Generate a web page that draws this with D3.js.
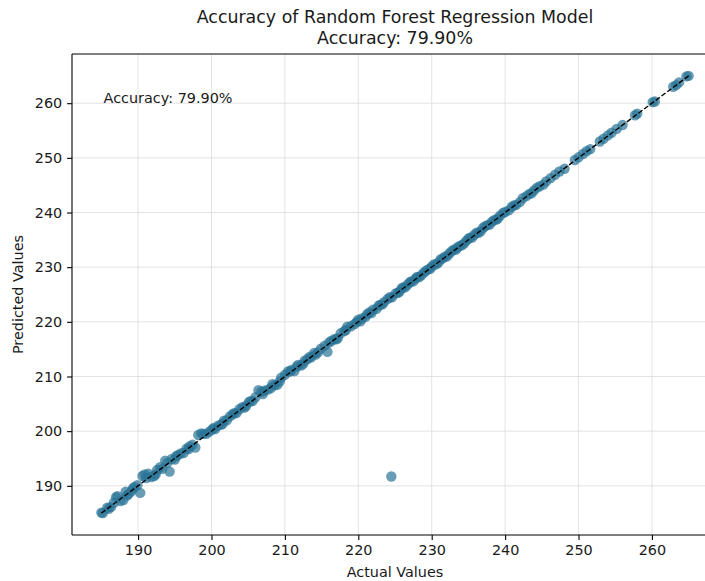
<!DOCTYPE html>
<html><head><meta charset="utf-8">
<script src="https://cdn.jsdelivr.net/npm/d3@7"></script>
<style>body{margin:0;background:#fff}svg{display:block}text{font-family:"DejaVu Sans",sans-serif}</style>
</head><body>
<script>
const actual = [185.0,185.2,185.8,186.3,186.7,187.0,187.2,187.6,188.0,188.3,188.7,189.1,189.5,189.9,190.3,190.6,190.9,191.1,191.4,191.8,192.2,192.6,193.0,193.3,193.7,194.0,194.3,194.6,195.0,195.4,195.8,196.2,196.6,197.0,197.4,197.8,198.2,198.6,198.9,199.3,199.7,200.1,200.5,200.9,201.3,201.7,202.1,202.5,202.9,203.4,203.8,204.2,204.7,205.1,205.6,206.0,206.4,206.8,207.2,207.7,208.1,208.6,209.0,209.5,210.0,210.4,210.9,211.3,211.8,212.2,212.7,213.1,213.6,214.0,214.5,214.9,215.4,215.8,216.3,216.7,217.2,217.6,218.1,218.5,219.0,219.5,220.0,220.5,221.0,221.5,222.0,222.5,223.0,223.5,224.0,224.6,225.1,225.6,226.1,226.7,227.2,227.8,228.3,228.9,229.5,230.0,230.6,231.2,231.8,232.4,233.0,233.5,234.1,234.7,235.2,235.8,236.4,237.0,237.6,238.2,238.8,239.3,240.0,240.9,241.5,242.4,243.3,243.9,244.7,245.6,246.2,246.8,247.4,248.1,249.5,250.0,250.6,251.1,251.6,252.9,253.4,254.0,254.5,255.2,256.0,257.7,258.0,260.1,260.4,262.9,263.3,263.7,264.7,265.0,224.5,
  186.0,188.5,189.3,192.4,195.2,196.9,200.3,201.5,203.1,204.5,205.3,207.0,208.3,209.3,210.7,211.6,212.5,213.4,214.2,216.0,217.0,218.3,219.8,220.3,221.2,221.8,222.8,223.3,224.3,225.4,225.9,226.4,227.0,227.5,228.0,228.6,229.2,229.8,230.3,230.9,231.5,232.1,232.7,233.3,233.8,234.4,235.0,235.5,236.1,236.7,237.3,237.9,238.5,239.0,239.7,240.5,241.2,242.0,242.9,243.6,244.3,245.2];
const predicted = [185.1,185.0,186.0,186.1,186.9,187.9,188.1,187.2,187.4,188.9,188.5,189.0,189.8,190.1,188.7,191.8,192.1,191.4,192.2,191.6,191.8,192.9,193.4,193.1,194.6,194.2,192.6,194.9,194.8,195.6,195.9,196.0,196.8,197.2,197.5,197.0,199.3,199.6,199.5,199.5,199.9,200.3,200.4,201.0,201.2,201.9,202.0,202.7,203.1,203.3,204.0,204.4,204.6,205.3,205.5,206.2,207.5,207.2,207.4,207.6,207.9,208.4,208.5,209.8,210.3,210.9,211.2,211.0,212.1,212.0,212.9,213.2,213.5,214.3,214.4,215.1,215.6,214.5,216.5,216.8,217.0,217.9,218.3,219.1,219.2,219.6,220.4,220.6,220.9,221.7,222.2,222.4,223.1,223.6,224.2,224.5,225.2,225.5,226.3,226.8,227.4,227.9,228.2,229.0,229.6,230.1,230.5,231.4,231.9,232.5,233.2,233.6,234.0,234.8,235.4,235.9,236.3,237.2,237.7,238.3,238.7,239.4,240.1,241.0,241.4,242.6,243.4,244.0,244.8,245.7,246.3,246.9,247.5,248.0,249.6,250.1,250.7,251.2,251.6,253.0,253.5,254.1,254.6,255.3,256.0,257.8,258.1,260.2,260.3,263.0,263.3,263.8,264.9,265.0,191.7,
  185.8,188.2,189.5,192.1,195.4,196.7,200.6,201.3,203.3,204.3,205.5,206.8,208.6,209.1,210.9,211.8,212.3,213.6,214.0,216.2,216.8,218.5,220.0,220.1,221.4,221.6,223.0,223.2,224.5,225.3,226.1,226.3,227.2,227.4,228.2,228.5,229.3,229.7,230.5,230.8,231.6,232.0,232.9,233.2,233.9,234.3,235.2,235.4,236.3,236.6,237.5,237.8,238.6,238.9,239.9,240.4,241.3,241.9,243.0,243.5,244.5,245.1];
const xTicks = [190,200,210,220,230,240,250,260];
const yTicks = [190,200,210,220,230,240,250,260];
const titleLines = ["Accuracy of Random Forest Regression Model","Accuracy: 79.90%"];
const annotation = "Accuracy: 79.90%";
const lineRange = [185,265];

const W=705,H=581;
const m={l:72,t:54,r:718,b:535};
const FS=14.4, TFS=17.4;
const svg=d3.select("body").append("svg").attr("width",W).attr("height",H);
const x=d3.scaleLinear().domain([181,269]).range([m.l,m.r]);
const y=d3.scaleLinear().domain([181,269]).range([m.b,m.t]);

const g=svg.append("g");
g.selectAll(".vx").data(xTicks).join("line").attr("x1",d=>x(d)).attr("x2",d=>x(d)).attr("y1",m.t).attr("y2",m.b).attr("stroke","#dcdcdc").attr("stroke-width",0.8);
g.selectAll(".hy").data(yTicks).join("line").attr("y1",d=>y(d)).attr("y2",d=>y(d)).attr("x1",m.l).attr("x2",m.r).attr("stroke","#dcdcdc").attr("stroke-width",0.8);

svg.append("g").selectAll("circle").data(actual.map((a,i)=>[a,predicted[i]])).join("circle")
 .attr("cx",d=>x(d[0])).attr("cy",d=>y(d[1])).attr("r",5.2)
 .attr("fill","#2a7396").attr("fill-opacity",0.7);

svg.append("line").attr("x1",x(lineRange[0])).attr("y1",y(lineRange[0])).attr("x2",x(lineRange[1])).attr("y2",y(lineRange[1]))
 .attr("stroke","#000").attr("stroke-width",1.4).attr("stroke-dasharray","5,2.2");

const xa=svg.append("g").attr("transform",`translate(0,${m.b})`).call(d3.axisBottom(x).tickValues(xTicks).tickSize(4.9).tickPadding(4.9));
const ya=svg.append("g").attr("transform",`translate(${m.l},0)`).call(d3.axisLeft(y).tickValues(yTicks).tickSize(4.9).tickPadding(4.9));
[xa,ya].forEach(a=>{a.select(".domain").remove();a.selectAll("text").attr("font-size",FS).attr("font-family","DejaVu Sans").attr("fill","#1a1a1a");a.selectAll("line").attr("stroke","#000").attr("stroke-width",1.1);});
svg.append("line").attr("x1",m.l).attr("x2",m.l).attr("y1",m.t).attr("y2",m.b).attr("stroke","#000").attr("stroke-width",1.1);
svg.append("line").attr("x1",m.l).attr("x2",m.r).attr("y1",m.b).attr("y2",m.b).attr("stroke","#000").attr("stroke-width",1.1);
svg.append("line").attr("x1",m.l).attr("x2",m.r).attr("y1",m.t).attr("y2",m.t).attr("stroke","#000").attr("stroke-width",1.1);

svg.append("text").attr("x",x(185.3)).attr("y",y(260)).attr("font-size",FS).attr("fill","#1a1a1a").text(annotation);

svg.append("text").attr("text-anchor","middle").attr("font-size",TFS).attr("fill","#1a1a1a")
 .selectAll("tspan").data(titleLines).join("tspan").attr("x",(m.l+m.r)/2).attr("y",(d,i)=>23+i*21).text(d=>d);

svg.append("text").attr("x",(m.l+m.r)/2).attr("y",577).attr("text-anchor","middle").attr("font-size",FS).attr("fill","#1a1a1a").text("Actual Values");
svg.append("text").attr("transform",`translate(23,${(m.t+m.b)/2}) rotate(-90)`).attr("text-anchor","middle").attr("font-size",FS).attr("fill","#1a1a1a").text("Predicted Values");
</script>
</body></html>
